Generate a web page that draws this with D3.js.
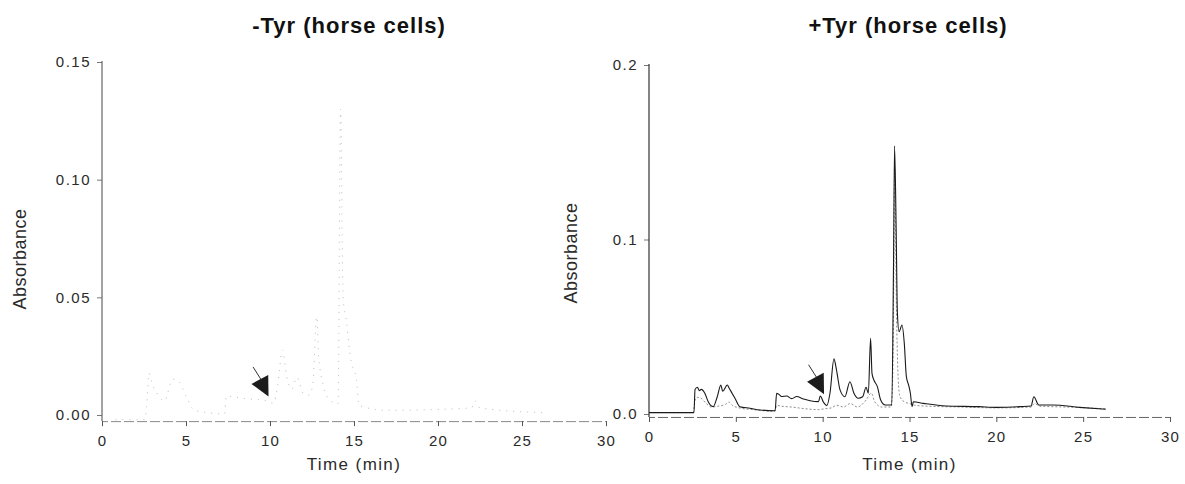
<!DOCTYPE html>
<html>
<head>
<meta charset="utf-8">
<script src="https://cdn.jsdelivr.net/npm/d3@7"></script>
<style>
  body { margin: 0; background: #fff; }
  svg text { font-family: "Liberation Sans", Arial, sans-serif; }
</style>
</head>
<body>
<svg id="chart" width="1185" height="484"></svg>
<script>
// ---- Data ----
const timeTicks = [0, 5, 10, 15, 20, 25, 30];
const minusTyrTicks = [0, 0.05, 0.1, 0.15];
const plusTyrTicks = [0, 0.1, 0.2];

// [time (min), absorbance]
const minusTyrTrace = [
  [0.8, -0.002], [2.55, -0.002], [2.65, 0.0035], [2.8, 0.0178], [3.0, 0.013],
  [3.27, 0.0093], [3.7, 0.006], [4.22, 0.0152], [4.6, 0.014], [5.0, 0.008],
  [5.5, 0.002], [7.3, 0.0005], [7.4, 0.008], [8.5, 0.007], [9.8, 0.006],
  [10.2, 0.005], [10.45, 0.0122], [10.74, 0.0276], [11.0, 0.016], [11.3, 0.011],
  [11.6, 0.016], [12.0, 0.009], [12.33, 0.0085], [12.55, 0.013], [12.78, 0.0418],
  [12.9, 0.025], [13.2, 0.012], [13.6, 0.006], [14.05, 0.0048], [14.2, 0.13],
  [14.35, 0.05], [14.55, 0.0397], [14.7, 0.0297], [14.8, 0.024], [15.15, 0.0149],
  [15.3, 0.004], [17, 0.002], [22, 0.003], [22.2, 0.006], [22.5, 0.003], [26.3, 0.001]
];

const plusTyrSolid = [
  [0, 0.0008], [2.59, 0.0008], [2.65, 0.014], [2.79, 0.0153], [2.9, 0.0134],
  [3.0, 0.0141], [3.22, 0.0118], [3.41, 0.007], [3.7, 0.0042], [3.93, 0.0099],
  [4.14, 0.0166], [4.24, 0.013], [4.51, 0.0166], [4.62, 0.0147], [4.95, 0.009],
  [5.23, 0.0042], [5.81, 0.0033], [6.4, 0.0023], [7.26, 0.0019], [7.35, 0.0118],
  [7.45, 0.0115], [7.64, 0.01], [7.93, 0.0103], [8.22, 0.0088], [8.5, 0.01],
  [8.9, 0.0086], [9.28, 0.0076], [9.76, 0.0071], [9.86, 0.0103], [10.05, 0.0067],
  [10.24, 0.0048], [10.42, 0.0119], [10.65, 0.0316], [10.8, 0.025], [11.0, 0.0138],
  [11.28, 0.0099], [11.57, 0.0185], [11.8, 0.0119], [12.05, 0.009], [12.3, 0.0099],
  [12.5, 0.0153], [12.63, 0.0119], [12.76, 0.0434], [12.84, 0.0233], [12.95, 0.0195],
  [13.15, 0.0157], [13.34, 0.008], [13.6, 0.0052], [13.98, 0.0052], [14.08, 0.086],
  [14.14, 0.1536], [14.24, 0.0997], [14.3, 0.0586], [14.4, 0.0472], [14.57, 0.051],
  [14.7, 0.0405], [14.82, 0.0214], [14.95, 0.0166], [15.05, 0.0119], [15.15, 0.0042],
  [15.22, 0.007], [15.8, 0.0061], [17.1, 0.0046], [19.0, 0.0042], [20.0, 0.0038],
  [21.4, 0.0042], [22.0, 0.0046], [22.16, 0.0099], [22.44, 0.0052], [23.25, 0.0052],
  [24.8, 0.0038], [26.3, 0.0027]
];

const plusTyrDotted = [
  [0, 0.0008], [2.55, 0.0008], [2.65, 0.008], [2.8, 0.0095], [3.0, 0.009],
  [3.3, 0.006], [3.6, 0.004], [4.0, 0.0045], [4.4, 0.0055], [4.6, 0.0068],
  [4.8, 0.005], [5.2, 0.0035], [6.0, 0.0025], [7.25, 0.0015], [7.35, 0.005],
  [7.6, 0.0045], [8.2, 0.004], [9.0, 0.003], [9.8, 0.0025], [10.1, 0.003],
  [10.5, 0.0035], [10.8, 0.005], [11.2, 0.004], [11.6, 0.006], [12.0, 0.004],
  [12.5, 0.008], [12.8, 0.012], [13.0, 0.007], [13.4, 0.004], [13.95, 0.004],
  [14.05, 0.03], [14.15, 0.14], [14.25, 0.06], [14.35, 0.02], [14.45, 0.01],
  [14.7, 0.007], [15.0, 0.006], [15.3, 0.005], [16, 0.0045], [18, 0.004],
  [20, 0.0035], [22, 0.004], [22.2, 0.006], [22.5, 0.0045], [24, 0.004], [26.3, 0.003]
];

// arrow tips [time, absorbance]
const minusTyrArrow = [8.9, 0.0132];
const plusTyrArrow = [9.1, 0.0185];

class ChromatogramPanel {
  TEXT_COLOR = "#2a2a2a";

  constructor(svg, opts) {
    this.svg = svg;
    this.opts = opts;
  }

  buildGraph = () => {
    this.initScales();
    this.getLabels();
    this.getAxes();
    this.getTraces();
    this.getArrow();
  };

  initScales = () => {
    const o = this.opts;
    this.x = d3.scaleLinear().domain([0, 30]).range(o.xRange);
    this.y = d3.scaleLinear().domain([0, o.yMax]).range(o.yRange);
    // x axis sits slightly below zero absorbance
    this.axisY = this.y(o.axisValue);
  };

  getLabels = () => {
    const o = this.opts;
    const [x0, x1] = this.x.range();
    // Title
    this.svg.append("text")
      .text(o.title)
      .attr("x", o.titleX)
      .attr("y", 33)
      .attr("text-anchor", "middle")
      .attr("font-size", 22)
      .attr("font-weight", "bold")
      .attr("letter-spacing", "1px")
      .attr("fill", "#111");

    // Y label
    this.svg.append("text")
      .text("Absorbance")
      .attr("transform", `translate(${o.yLabelX}, ${o.yLabelY}) rotate(-90)`)
      .attr("text-anchor", "middle")
      .attr("font-size", 18)
      .attr("letter-spacing", "0.5px")
      .attr("fill", this.TEXT_COLOR);

    // X label
    this.svg.append("text")
      .text("Time (min)")
      .attr("x", (x0 + x1) / 2)
      .attr("y", 470)
      .attr("text-anchor", "middle")
      .attr("font-size", 17)
      .attr("letter-spacing", "1.4px")
      .attr("fill", this.TEXT_COLOR);
  };

  getAxes = () => {
    const o = this.opts;
    const [x0] = this.x.range();

    const axisX = d3.axisBottom(this.x)
      .tickValues(timeTicks)
      .tickFormat(d3.format("d"))
      .tickSizeOuter(0)
      .tickSize(5)
      .tickPadding(9);

    const gx = this.svg.append("g")
      .attr("transform", `translate(0, ${this.axisY})`)
      .call(axisX);
    gx.select(".domain")
      .attr("stroke", o.xAxisColor)
      .attr("stroke-dasharray", "10 3");
    gx.selectAll(".tick line").attr("stroke", "#555");
    gx.selectAll(".tick text")
      .attr("font-size", 15)
      .attr("letter-spacing", "1.2px")
      .attr("fill", this.TEXT_COLOR)
      .attr("font-family", "'Liberation Sans', Arial, sans-serif");

    const axisY = d3.axisLeft(this.y)
      .tickValues(o.yTicks)
      .tickFormat(d3.format(o.yFormat))
      .tickSizeOuter(0)
      .tickSize(5)
      .tickPadding(6);

    const gy = this.svg.append("g")
      .attr("transform", `translate(${x0}, 0)`)
      .call(axisY);
    gy.select(".domain").remove();
    gy.selectAll(".tick line").attr("stroke", "#777");
    gy.selectAll(".tick text")
      .attr("font-size", 15)
      .attr("letter-spacing", "1.5px")
      .attr("fill", this.TEXT_COLOR)
      .attr("font-family", "'Liberation Sans', Arial, sans-serif");

    // vertical axis line down to the x axis
    gy.append("line")
      .attr("x1", 0).attr("x2", 0)
      .attr("y1", this.y(o.yMax) - 1)
      .attr("y2", this.axisY)
      .attr("stroke", o.yAxisColor)
      .attr("stroke-width", 1.2);
  };

  getTraces = () => {
    const line = d3.line()
      .curve(d3.curveMonotoneX)
      .x((d) => this.x(d[0]))
      .y((d) => this.y(d[1]));

    this.opts.traces.forEach((t) => {
      this.svg.append("path")
        .datum(t.data)
        .attr("d", line)
        .attr("fill", "none")
        .attr("stroke", t.color)
        .attr("stroke-width", t.width)
        .attr("stroke-dasharray", t.dash || null)
        .attr("stroke-linejoin", "round");
    });
  };

  getArrow = () => {
    const [t, v] = this.opts.arrow;
    const tipX = this.x(t);
    const tipY = this.y(v);
    const g = this.svg.append("g").attr("transform", `translate(${tipX}, ${tipY})`);
    g.append("line")
      .attr("x1", 1.5).attr("y1", -17)
      .attr("x2", 11).attr("y2", -2)
      .attr("stroke", "#333")
      .attr("stroke-width", 1);
    g.append("path")
      .attr("d", "M0,0 L16.7,-9 L17,12.5 Z")
      .attr("fill", "#1c1c1c");
  };
}

const svg = d3.select("#chart");

new ChromatogramPanel(svg, {
  title: "-Tyr (horse cells)",
  titleX: 349,
  xRange: [102, 606],
  yRange: [415, 62],
  yMax: 0.15,
  axisValue: -0.0026,
  yTicks: minusTyrTicks,
  yFormat: ".2f",
  yLabelX: 26,
  yLabelY: 259,
  xAxisColor: "#8a8a8a",
  yAxisColor: "#666",
  arrow: minusTyrArrow,
  traces: [
    { data: minusTyrTrace, color: "#bdbdbd", width: 1, dash: "1 6" }
  ]
}).buildGraph();

new ChromatogramPanel(svg, {
  title: "+Tyr (horse cells)",
  titleX: 908,
  xRange: [649, 1170],
  yRange: [414, 65],
  yMax: 0.2,
  axisValue: -0.0017,
  yTicks: plusTyrTicks,
  yFormat: ".1f",
  yLabelX: 577,
  yLabelY: 253,
  xAxisColor: "#666",
  yAxisColor: "#333",
  arrow: plusTyrArrow,
  traces: [
    { data: plusTyrDotted, color: "#8c8c8c", width: 1, dash: "2 2" },
    { data: plusTyrSolid, color: "#1a1a1a", width: 1.1 }
  ]
}).buildGraph();
</script>
</body>
</html>
